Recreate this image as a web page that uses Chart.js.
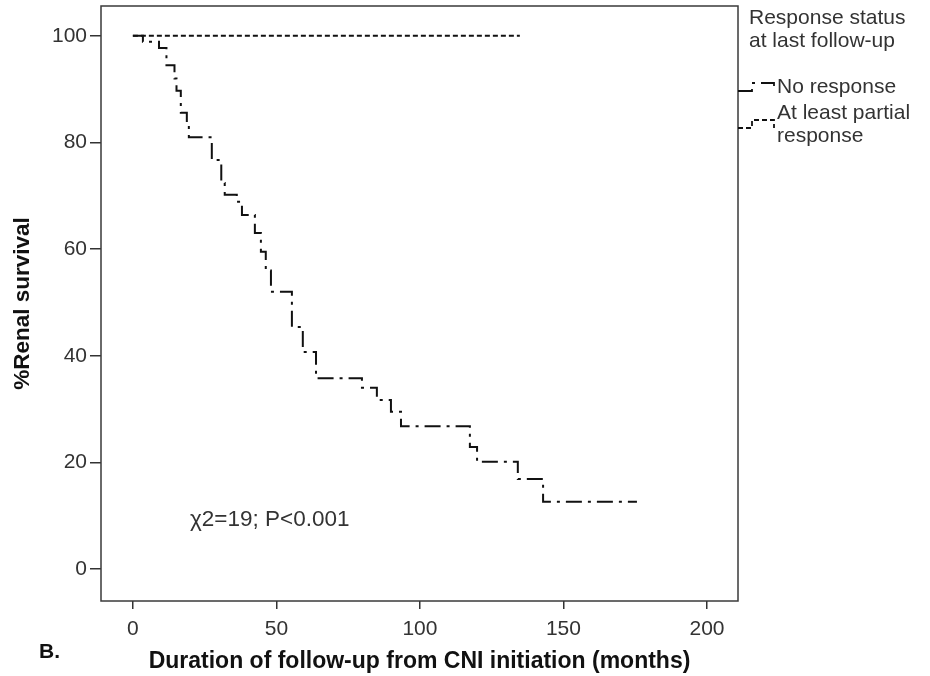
<!DOCTYPE html>
<html>
<head>
<meta charset="utf-8">
<script src="https://cdn.jsdelivr.net/npm/chart.js@4/dist/chart.umd.min.js"></script>
<style>
  html, body { margin: 0; padding: 0; background: #ffffff; }
  #wrap { width: 930px; height: 676px; }
</style>
</head>
<body>
<div id="wrap"><canvas id="km" width="930" height="676"></canvas></div>
<script>
// Kaplan-Meier renal survival by response status
const noResponseMonths   = [0, 3.5, 9.1, 11.7, 14.5, 15.2, 16.7, 18.8, 19.5, 27.5, 30.8, 32.0, 36.2, 38.0, 42.5, 44.6, 46.3, 48.1, 55.4, 59.2, 63.8, 79.8, 85.0, 89.9, 93.4, 117.4, 119.9, 134.1, 142.9, 175.6];
const noResponseSurvival = [100, 98.9, 97.7, 94.5, 92.0, 89.7, 85.6, 83.3, 81.0, 76.7, 72.4, 70.2, 68.9, 66.4, 63.0, 59.5, 56.0, 52.0, 45.4, 40.7, 35.8, 34.0, 31.7, 29.5, 26.8, 22.9, 20.1, 16.9, 12.6, 12.6];

const partialMonths   = [0, 134.8];
const partialSurvival = [100, 100];

const xTickValues = [0, 50, 100, 150, 200];
const yTickValues = [0, 20, 40, 60, 80, 100];

const legendTitle = ['Response status', 'at last follow-up'];
const seriesNames = ['No response', 'At least partial response'];
const statText = 'χ2=19; P<0.001';
const panelLabel = 'B.';
const xTitle = 'Duration of follow-up from CNI initiation (months)';
const yTitle = '%Renal survival';

const toPoints = (xs, ys) => xs.map((x, i) => ({ x: x, y: ys[i] }));

const DASH_DOT = [16, 6, 3, 6];
const SHORT_DASH = [5, 3];
const INK = '#111111';
const TEXT = '#333333';
const FONT = '"Liberation Sans", Arial, sans-serif';

// frame, legend, statistic and panel letter
const decorations = {
  id: 'decorations',
  afterDraw(chart) {
    const { ctx, chartArea: a } = chart;
    ctx.save();
    ctx.strokeStyle = '#3a3a3a';
    ctx.lineWidth = 1.5;
    ctx.setLineDash([]);
    ctx.strokeRect(a.left, a.top, a.right - a.left, a.bottom - a.top);

    // legend
    ctx.fillStyle = TEXT;
    ctx.font = '21px ' + FONT;
    ctx.textBaseline = 'middle';
    ctx.textAlign = 'left';
    ctx.fillText(legendTitle[0], 749, 18);
    ctx.fillText(legendTitle[1], 749, 41);

    const sym = (y, dash) => {
      ctx.save();
      ctx.strokeStyle = INK;
      ctx.lineWidth = 1.8;
      ctx.setLineDash(dash);
      ctx.beginPath();
      ctx.moveTo(a.right, y);
      ctx.lineTo(a.right + 14, y);
      ctx.lineTo(a.right + 14, y - 8);
      ctx.lineTo(a.right + 36, y - 8);
      ctx.lineTo(a.right + 36, y);
      ctx.stroke();
      ctx.restore();
    };
    sym(91, chart.data.datasets[0].borderDash);
    sym(128, chart.data.datasets[1].borderDash);
    const words = seriesNames[1].split(' ');
    ctx.fillText(seriesNames[0], 777, 87);
    ctx.fillText(words.slice(0, 3).join(' '), 777, 113);
    ctx.fillText(words.slice(3).join(' '), 777, 136);

    // log-rank statistic
    ctx.font = '22.5px ' + FONT;
    ctx.fillText(statText, 190, 520);

    // panel letter
    ctx.fillStyle = INK;
    ctx.font = 'bold 21px ' + FONT;
    ctx.fillText(panelLabel, 39, 652);
    ctx.restore();
  }
};

new Chart(document.getElementById('km'), {
  type: 'line',
  data: {
    datasets: [
      {
        label: seriesNames[0],
        data: toPoints(noResponseMonths, noResponseSurvival),
        stepped: true,
        borderColor: INK,
        borderWidth: 2,
        borderDash: DASH_DOT,
        pointRadius: 0,
        fill: false
      },
      {
        label: seriesNames[1],
        data: toPoints(partialMonths, partialSurvival),
        stepped: true,
        borderColor: INK,
        borderWidth: 2,
        borderDash: SHORT_DASH,
        pointRadius: 0,
        fill: false
      }
    ]
  },
  options: {
    responsive: false,
    animation: false,
    devicePixelRatio: 1,
    layout: { padding: { left: 0, right: 192, top: 6, bottom: 0 } },
    plugins: { legend: { display: false }, tooltip: { enabled: false } },
    scales: {
      x: {
        type: 'linear',
        min: -11.1,
        max: 210.8,
        afterBuildTicks: s => { s.ticks = xTickValues.map(v => ({ value: v })); },
        afterFit: s => { s.height = 75; s.paddingLeft = 0; s.paddingRight = 0; },
        border: { display: false },
        grid: { drawOnChartArea: false, drawTicks: true, tickLength: 8, color: '#333333', lineWidth: 1.5 },
        ticks: { color: TEXT, padding: 8, font: { family: FONT, size: 21 }, maxRotation: 0 },
        title: {
          display: true, text: xTitle, color: INK,
          font: { family: FONT, size: 23, weight: 'bold' },
          padding: { top: 0, bottom: 1 }
        }
      },
      y: {
        type: 'linear',
        min: -6.0,
        max: 105.6,
        afterBuildTicks: s => { s.ticks = yTickValues.map(v => ({ value: v })); },
        afterFit: s => { s.width = 101; s.paddingTop = 0; s.paddingBottom = 0; },
        border: { display: false },
        grid: { drawOnChartArea: false, drawTicks: true, tickLength: 11, color: '#333333', lineWidth: 1.5 },
        ticks: { color: TEXT, padding: 3, font: { family: FONT, size: 21 } },
        title: {
          display: true, text: yTitle, color: INK,
          font: { family: FONT, size: 22.5, weight: 'bold' },
          padding: { top: 9, bottom: 0 }
        }
      }
    }
  },
  plugins: [decorations]
});
</script>
</body>
</html>
